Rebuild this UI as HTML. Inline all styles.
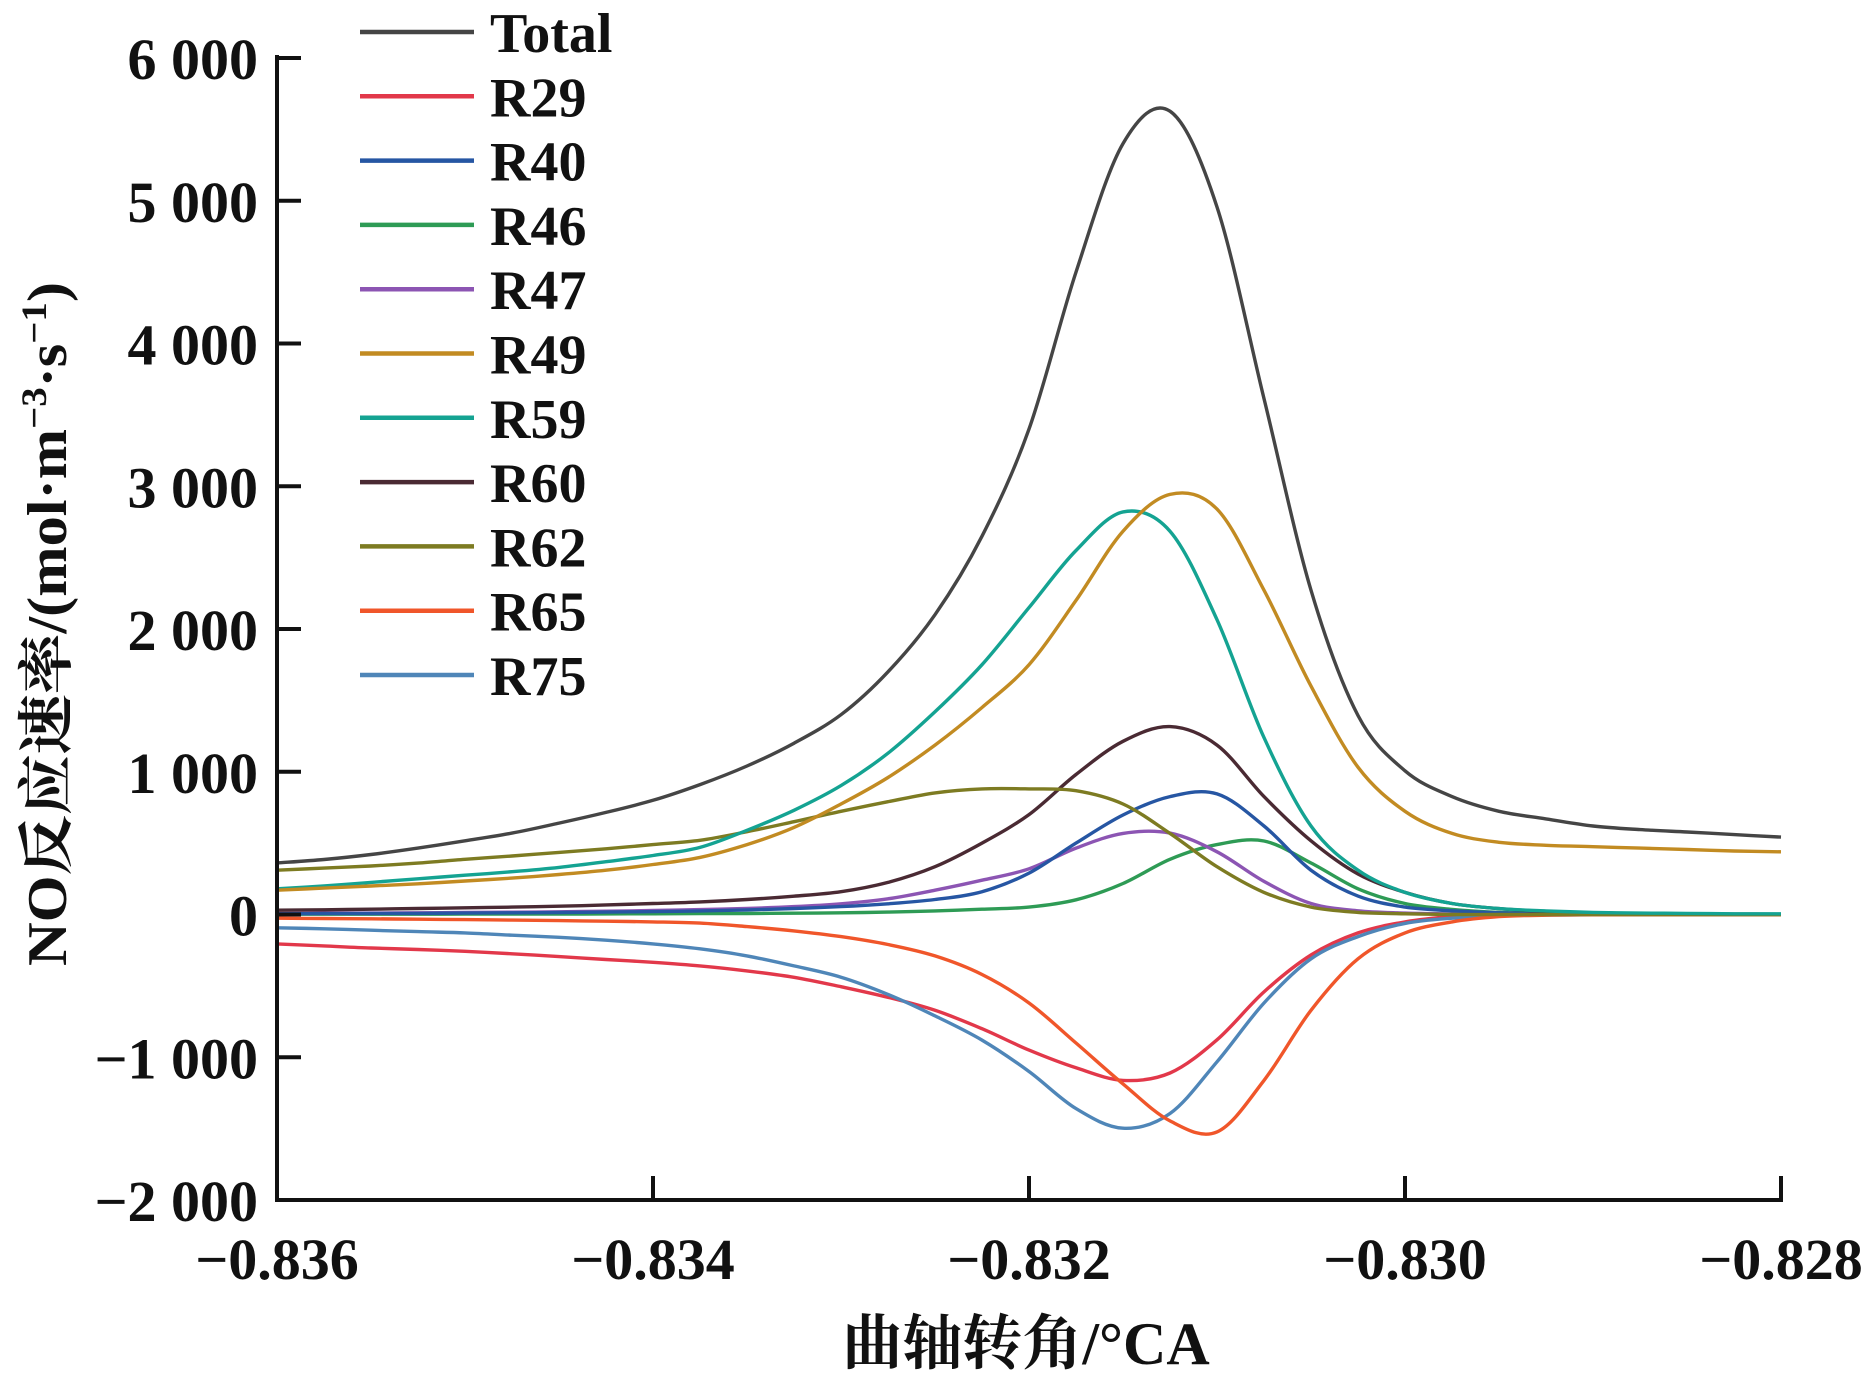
<!DOCTYPE html>
<html><head><meta charset="utf-8"><style>
html,body{margin:0;padding:0;background:#fff;}
svg{display:block;}
text{font-family:"Liberation Serif","Noto Serif CJK SC","Noto Sans CJK SC",serif;font-weight:bold;fill:#111;}
</style></head>
<body>
<svg id="chart" width="1872" height="1377" viewBox="0 0 1872 1377" xmlns="http://www.w3.org/2000/svg">
<g id="curves"></g>
<g id="axes"></g>
<g id="legend"></g>
<text x="1026" y="1364" font-size="60" text-anchor="middle">曲轴转角/°CA</text>
<text transform="translate(66,624) rotate(-90)" font-size="56" text-anchor="middle" textLength="684" lengthAdjust="spacingAndGlyphs">NO反应速率/(mol·m<tspan font-size="36" dy="-20">−3</tspan><tspan dy="20">·s</tspan><tspan font-size="36" dy="-20">−1</tspan><tspan dy="20">)</tspan></text>
</svg>
<script>
const xStart = -0.836;
const xStep = 0.00025;
const xTicks = [-0.836, -0.834, -0.832, -0.830, -0.828];
const xTickLabels = ["\u22120.836", "\u22120.834", "\u22120.832", "\u22120.830", "\u22120.828"];
const yTicks = [-2000, -1000, 0, 1000, 2000, 3000, 4000, 5000, 6000];
const yTickLabels = ["\u22122 000", "\u22121 000", "0", "1 000", "2 000", "3 000", "4 000", "5 000", "6 000"];
const seriesNames = ["Total", "R29", "R40", "R46", "R47", "R49", "R59", "R60", "R62", "R65", "R75"];
const seriesColors = ["#454545", "#e2384a", "#2656a3", "#2e9b55", "#8c55b3", "#c28b22", "#14a392", "#4a2a33", "#7d7b22", "#f0562a", "#4f86b8"];
const total = [361,385,420,465,516,570,640,715,800,910,1040,1200,1400,1700,2100,2650,3400,4500,5400,5627,4956,3614,2272,1394,1007,826,723,670,620,595,578,560,542];
const r29 = [-206,-220,-235,-245,-258,-275,-295,-315,-335,-360,-395,-440,-506,-580,-671,-800,-950,-1074,-1162,-1110,-878,-542,-284,-129,-52,-15,-5,-2,-2,-2,-2,-2,-2];
const r40 = [5,6,7,8,10,12,14,17,20,25,32,42,55,75,105,160,290,500,697,826,845,620,310,129,52,26,12,6,3,2,2,2,2];
const r46 = [2,2,2,2,3,3,3,4,5,6,7,9,12,17,25,37,52,103,217,387,490,515,361,180,77,36,15,7,3,1,1,1,1];
const r47 = [8,9,10,12,14,16,19,23,28,34,42,55,75,110,170,240,320,465,568,570,439,232,77,26,10,4,2,2,2,2,2,2,2];
const r49 = [170,185,200,215,235,255,280,310,350,400,490,610,774,960,1187,1450,1750,2200,2685,2943,2840,2272,1600,1032,723,568,506,485,475,465,455,445,439];
const r59 = [180,200,225,250,275,300,330,370,413,470,590,730,903,1130,1420,1750,2150,2550,2820,2685,2065,1239,620,310,155,77,41,25,15,10,8,5,5];
const r60 = [30,33,37,42,47,52,58,67,77,88,105,128,160,225,335,500,700,981,1213,1316,1187,826,516,284,155,77,41,22,12,8,5,3,2];
const r62 = [310,325,340,360,387,410,435,460,490,520,580,650,723,790,852,880,880,867,774,568,335,155,52,15,5,0,0,0,0,0,0,0,0];
const r65 = [-26,-28,-30,-33,-36,-39,-43,-47,-52,-60,-85,-115,-155,-210,-290,-420,-620,-900,-1187,-1446,-1523,-1162,-671,-310,-129,-52,-15,-5,-2,-2,-2,-2,-2];
const r75 = [-93,-100,-110,-120,-129,-145,-160,-180,-206,-240,-290,-360,-439,-560,-710,-880,-1100,-1360,-1497,-1394,-1032,-620,-310,-155,-62,-26,-10,-4,-2,-2,-2,-2,-2];
const seriesData = [total, r29, r40, r46, r47, r49, r59, r60, r62, r65, r75];

const NS = "http://www.w3.org/2000/svg";
const L = 277, R = 1781, T = 58, B = 1200;
const xMin = -0.836, xMax = -0.828, yMin = -2000, yMax = 6000;
function sx(v){ return L + (v - xMin) / (xMax - xMin) * (R - L); }
function sy(v){ return B - (v - yMin) / (yMax - yMin) * (B - T); }
function mk(tag, attrs){ const e = document.createElementNS(NS, tag); for (const k in attrs) e.setAttribute(k, attrs[k]); return e; }

const curves = document.getElementById('curves');
const order = [1,10,9,3,4,2,7,8,6,5,0];
order.forEach(si => {
  const d = seriesData[si];
  const pts = d.map((v, i) => [sx(xStart + i * xStep), sy(v)]);
  let p = "M" + pts[0][0].toFixed(1) + "," + pts[0][1].toFixed(1);
  for (let i = 0; i < pts.length - 1; i++) {
    const p0 = pts[Math.max(0, i - 1)], p1 = pts[i], p2 = pts[i + 1], p3 = pts[Math.min(pts.length - 1, i + 2)];
    const c1x = p1[0] + (p2[0] - p0[0]) / 6, c1y = p1[1] + (p2[1] - p0[1]) / 6;
    const c2x = p2[0] - (p3[0] - p1[0]) / 6, c2y = p2[1] - (p3[1] - p1[1]) / 6;
    p += " C" + c1x.toFixed(1) + "," + c1y.toFixed(1) + " " + c2x.toFixed(1) + "," + c2y.toFixed(1) + " " + p2[0].toFixed(1) + "," + p2[1].toFixed(1);
  }
  const path = mk('path', {d: p, fill: 'none', stroke: seriesColors[si], 'stroke-width': 3.4, 'stroke-linejoin': 'round'});
  
  
  curves.appendChild(path);
});

const axes = document.getElementById('axes');
const yAxis = mk('line', {x1: L, y1: T - 3, x2: L, y2: B + 2, stroke: '#111', 'stroke-width': 4});


axes.appendChild(yAxis);
const xAxis = mk('line', {x1: L - 2, y1: B, x2: R + 2, y2: B, stroke: '#111', 'stroke-width': 4});


axes.appendChild(xAxis);
yTicks.forEach((v, i) => {
  const y = sy(v);
  const t = mk('line', {x1: L, y1: y, x2: L + 24, y2: y, stroke: '#111', 'stroke-width': 4});
  
  
  axes.appendChild(t);
  const lb = mk('text', {x: 258, y: y + 21, 'font-size': 58, 'text-anchor': 'end'});
  lb.textContent = yTickLabels[i];
  
  
  axes.appendChild(lb);
});
xTicks.forEach((v, i) => {
  const x = sx(v);
  const t = mk('line', {x1: x, y1: B, x2: x, y2: B - 24, stroke: '#111', 'stroke-width': 4});
  
  
  axes.appendChild(t);
  const lb = mk('text', {x: x, y: 1279, 'font-size': 58, 'text-anchor': 'middle'});
  lb.textContent = xTickLabels[i];
  
  
  axes.appendChild(lb);
});

const legend = document.getElementById('legend');
seriesNames.forEach((n, i) => {
  const y = 32 + i * 64.3;
  const ln = mk('line', {x1: 360, y1: y, x2: 474, y2: y, stroke: seriesColors[i], 'stroke-width': 4.5});
  
  
  legend.appendChild(ln);
  const tx = mk('text', {x: 490, y: y + 20, 'font-size': 56});
  tx.textContent = n;
  
  
  legend.appendChild(tx);
});
</script>
</body></html>
